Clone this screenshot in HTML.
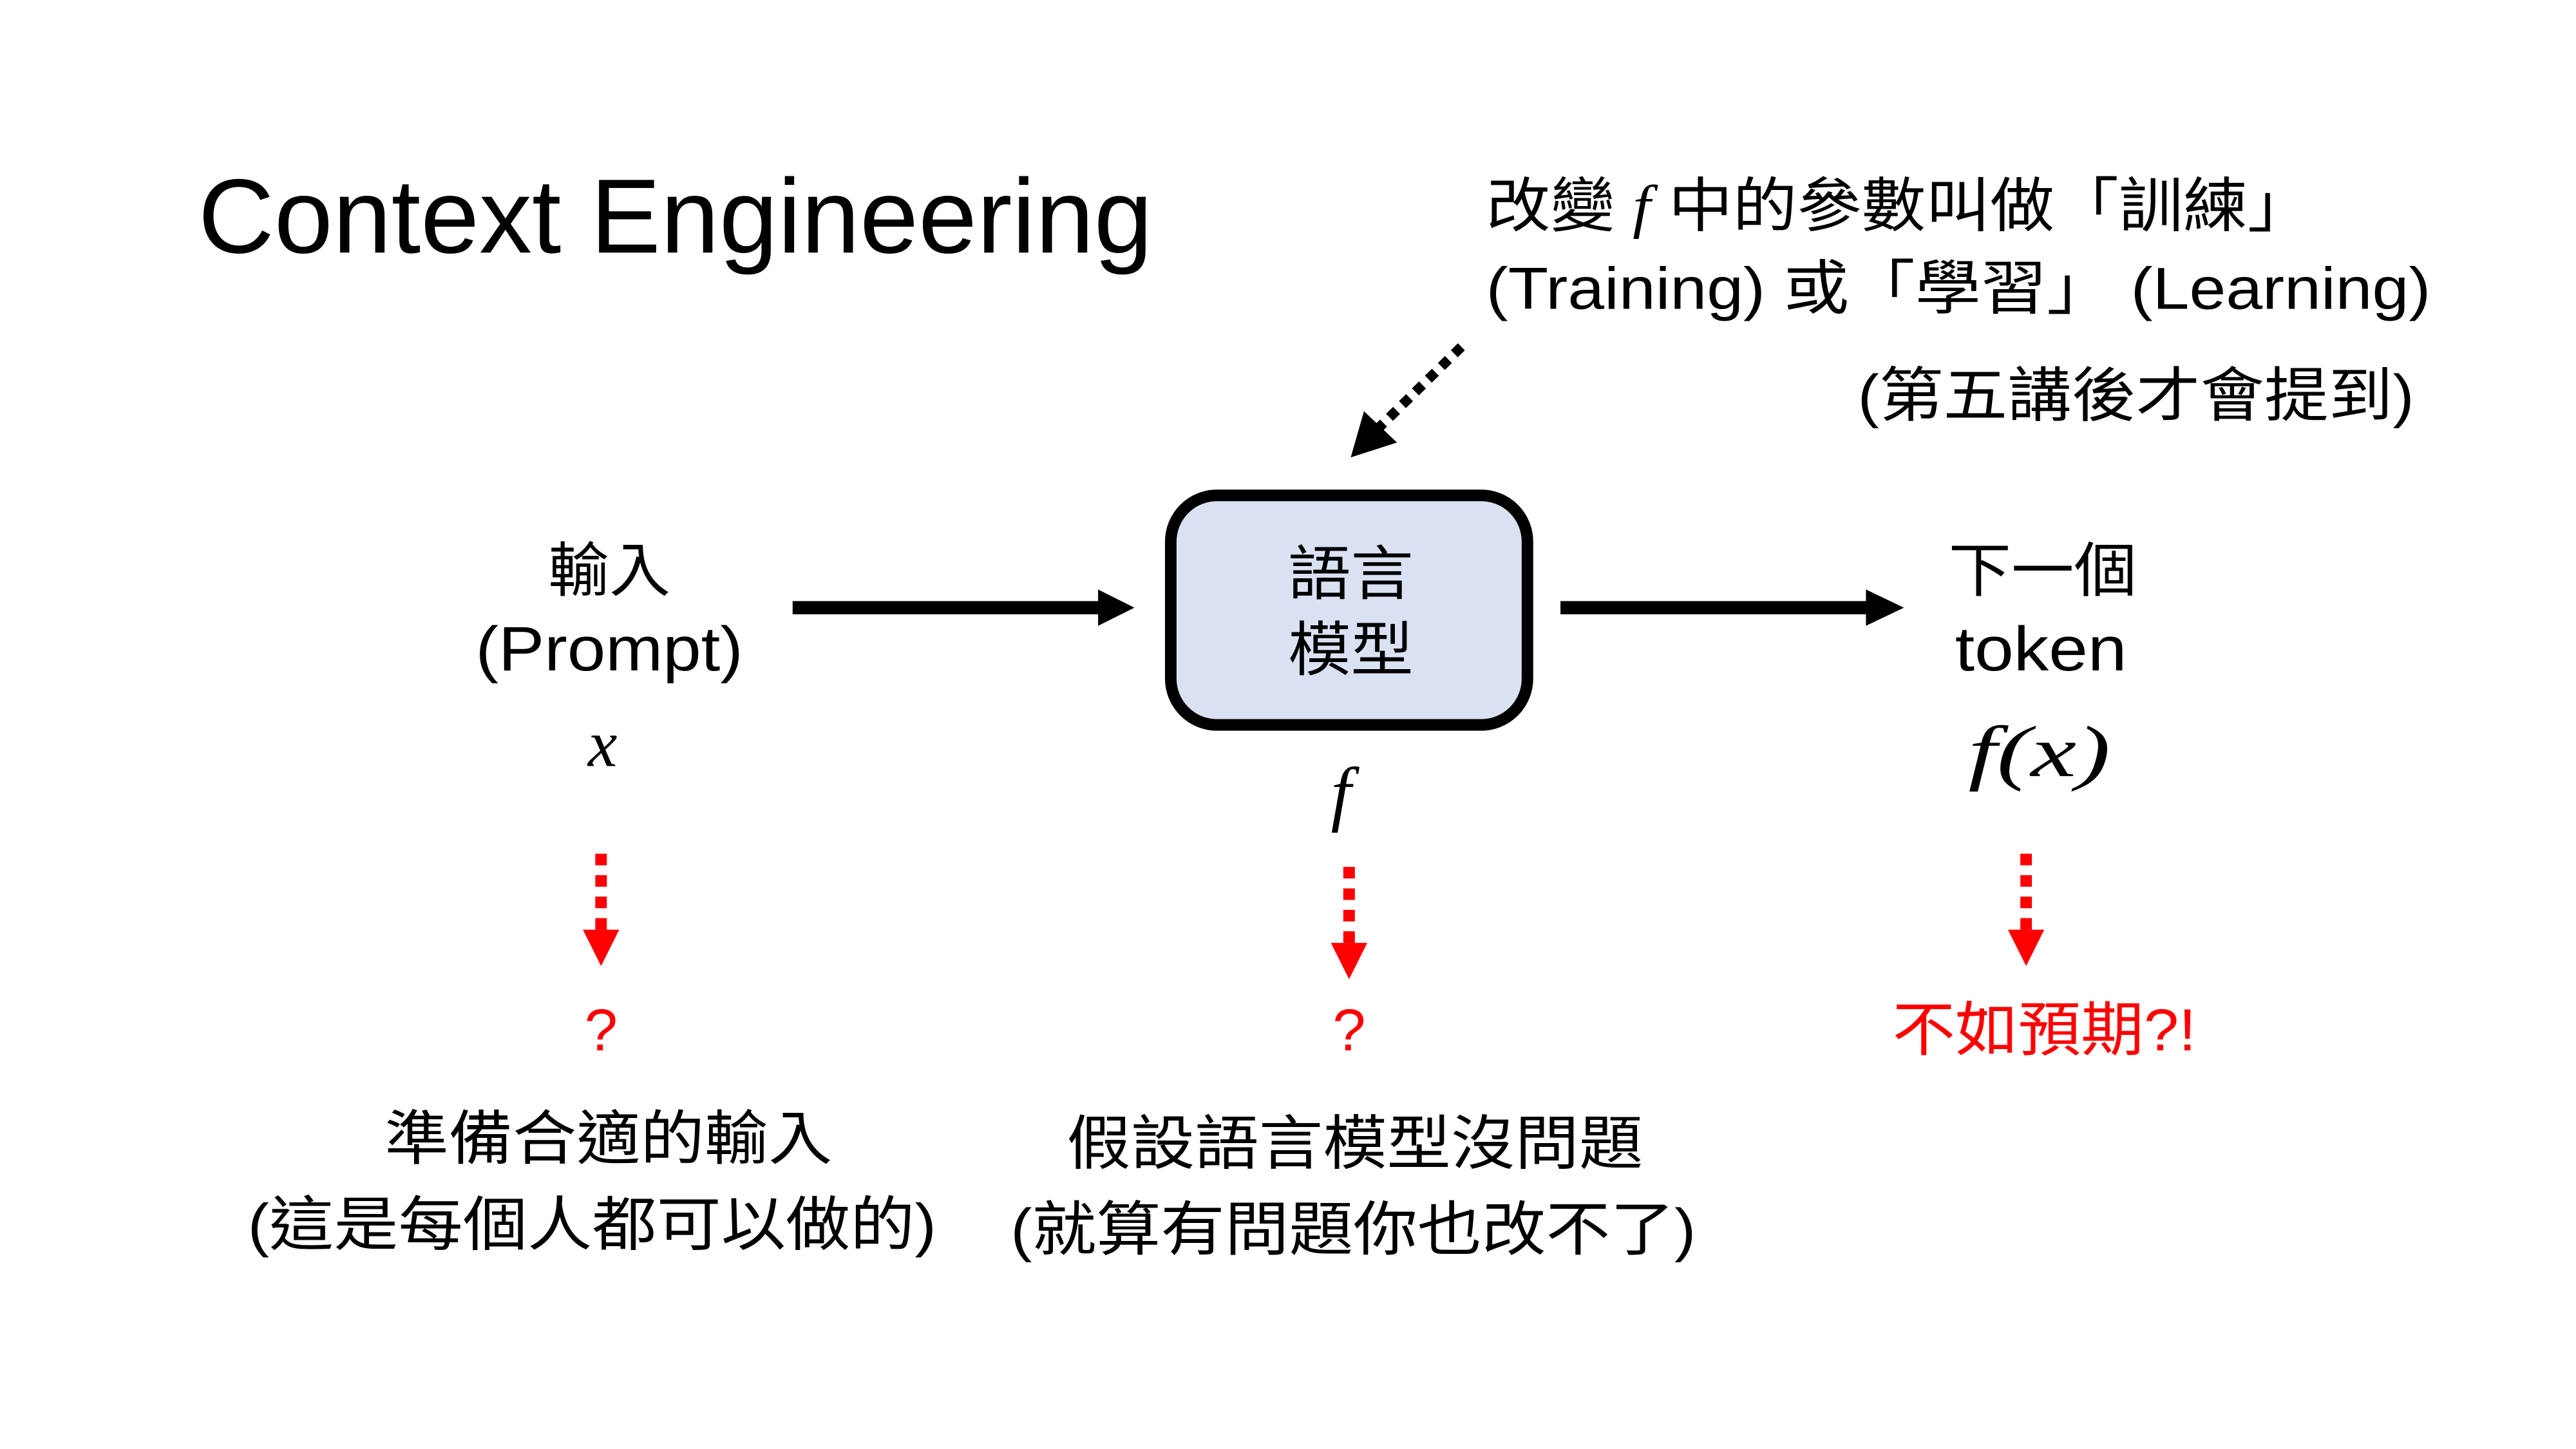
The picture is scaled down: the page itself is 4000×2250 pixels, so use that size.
<!DOCTYPE html>
<html><head><meta charset="utf-8"><style>
html,body{margin:0;padding:0;background:#fff;}
svg{display:block;}
text{font-family:"Liberation Sans","Noto Sans CJK TC",sans-serif;}
.m{font-family:"Liberation Serif","DejaVu Serif",serif;font-style:italic;}
</style></head><body>
<svg width="4000" height="2250" viewBox="0 0 1560 877.5" xmlns="http://www.w3.org/2000/svg">
<rect width="1560" height="877.5" fill="#fff"/>
<rect x="709" y="300" width="216" height="139" rx="28" fill="#dae1f3" stroke="#000" stroke-width="7"/>

<text x="120" y="153" font-size="64" textLength="578" lengthAdjust="spacingAndGlyphs">Context Engineering</text>

<text x="900" y="137" font-size="36" textLength="500" lengthAdjust="spacingAndGlyphs">改變 <tspan class="m">f</tspan> 中的參數叫做「訓練」</text>
<text x="900" y="187" font-size="36" textLength="572" lengthAdjust="spacingAndGlyphs">(Training) 或「學習」 (Learning)</text>
<text x="1125" y="252" font-size="36" textLength="337" lengthAdjust="spacingAndGlyphs">(第五講後才會提到)</text>

<line x1="885" y1="210" x2="832" y2="262" stroke="#000" stroke-width="6" stroke-dasharray="6,5"/>
<polygon points="818,277 826,249 846,268" fill="#000"/>

<g font-size="36">
<text x="332" y="358" textLength="74" lengthAdjust="spacingAndGlyphs">輸入</text>
<text x="288" y="406" font-size="38" textLength="162" lengthAdjust="spacingAndGlyphs">(Prompt)</text>
<text x="356" y="464" class="m" font-size="40">x</text>
<text x="780" y="360" textLength="76" lengthAdjust="spacingAndGlyphs">語言</text>
<text x="780" y="406" textLength="76" lengthAdjust="spacingAndGlyphs">模型</text>
<text x="806" y="495" class="m" font-size="44">f</text>
<text x="1180" y="358" textLength="114" lengthAdjust="spacingAndGlyphs">下一個</text>
<text x="1184" y="406" font-size="38" textLength="104" lengthAdjust="spacingAndGlyphs">token</text>
<text x="1192" y="470" class="m" font-size="44" textLength="86" lengthAdjust="spacingAndGlyphs">f(x)</text>
<text x="364" y="636" fill="#f00" text-anchor="middle">?</text>
<text x="817" y="636" fill="#f00" text-anchor="middle">?</text>
<text x="1146" y="636" fill="#f00" textLength="184" lengthAdjust="spacingAndGlyphs">不如預期?!</text>
<text x="233" y="702" textLength="271" lengthAdjust="spacingAndGlyphs">準備合適的輸入</text>
<text x="150" y="754" textLength="417" lengthAdjust="spacingAndGlyphs">(這是每個人都可以做的)</text>
<text x="646" y="705" textLength="349" lengthAdjust="spacingAndGlyphs">假設語言模型沒問題</text>
<text x="612" y="757" textLength="415" lengthAdjust="spacingAndGlyphs">(就算有問題你也改不了)</text>
</g>

<line x1="480" y1="368" x2="668" y2="368" stroke="#000" stroke-width="8"/>
<polygon points="665,357 687,368 665,379" fill="#000"/>
<line x1="945" y1="368" x2="1133" y2="368" stroke="#000" stroke-width="8"/>
<polygon points="1130,357 1153,368 1130,379" fill="#000"/>

<g stroke="#f00" stroke-width="7" stroke-dasharray="7,6">
<line x1="364" y1="517" x2="364" y2="565"/>
<line x1="817" y1="525" x2="817" y2="573"/>
<line x1="1227" y1="517" x2="1227" y2="565"/>
</g>
<g fill="#f00">
<polygon points="353,563 375,563 364,585"/>
<polygon points="806,571 828,571 817,593"/>
<polygon points="1216,563 1238,563 1227,585"/>
</g>
</svg>
</body></html>
